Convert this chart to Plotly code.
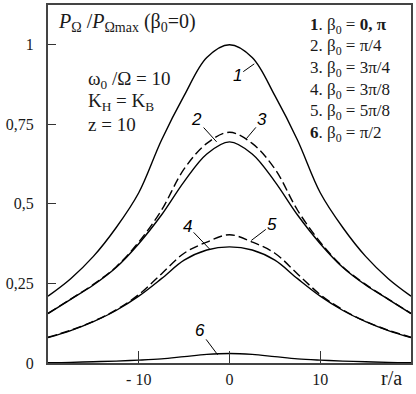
import plotly.graph_objects as go

# ---- data ----
r = [-20, -17.5, -15, -12.5, -10, -7.5, -5, -2.5, 0, 2.5, 5, 7.5, 10, 12.5, 15, 17.5, 20]
p1 = [0.21, 0.265, 0.335, 0.425, 0.535, 0.70, 0.84, 0.96, 1.0, 0.96, 0.84, 0.70, 0.535, 0.425, 0.335, 0.265, 0.21]
p2 = [0.155, 0.20, 0.245, 0.30, 0.375, 0.465, 0.57, 0.657, 0.695, 0.657, 0.57, 0.465, 0.375, 0.30, 0.245, 0.20, 0.155]
p3 = [0.156, 0.201, 0.247, 0.302, 0.38, 0.48, 0.61, 0.69, 0.725, 0.69, 0.61, 0.48, 0.38, 0.302, 0.247, 0.201, 0.156]
p4 = [0.08, 0.102, 0.13, 0.165, 0.21, 0.265, 0.323, 0.355, 0.365, 0.355, 0.323, 0.265, 0.21, 0.165, 0.13, 0.102, 0.08]
p5 = [0.081, 0.103, 0.131, 0.167, 0.215, 0.28, 0.345, 0.38, 0.403, 0.38, 0.345, 0.28, 0.215, 0.167, 0.131, 0.103, 0.081]
p6 = [0.001, 0.002, 0.004, 0.006, 0.009, 0.013, 0.02, 0.027, 0.03, 0.027, 0.02, 0.013, 0.009, 0.006, 0.004, 0.002, 0.001]

ytick_vals = [0, 0.25, 0.5, 0.75, 1]
ytick_text = ["0", "0,25", "0,5", "0,75", "1"]
xtick_vals = [-10, 0, 10]
xtick_text = ["- 10", "0", "10"]

legend_lines = [
    "<b>1</b>. β<sub>0</sub> = <b>0, π</b>",
    "2. β<sub>0</sub> = π/4",
    "3. β<sub>0</sub> = 3π/4",
    "4. β<sub>0</sub> = 3π/8",
    "5. β<sub>0</sub> = 5π/8",
    "<b>6</b>. β<sub>0</sub> = π/2",
]

# curve labels: (label, x on curve, y on curve, text offset px)
curve_labels = [
    ("1", 2.73, 0.94, -17, 12),
    ("2", -1.42, 0.695, -20, -22),
    ("3", 1.86, 0.705, 16, -19),
    ("4", -2.19, 0.358, -22, -23),
    ("5", 2.4, 0.385, 21, -16),
    ("6", -1.31, 0.026, -18, -24),
]

SERIF = "Liberation Serif"
INK = "#1a1a1a"

fig = go.Figure()
series = [(p1, "solid"), (p2, "solid"), (p3, "9px,4px"), (p4, "solid"), (p5, "9px,4px"), (p6, "solid")]
for ys, dash in series:
    fig.add_trace(go.Scatter(x=r, y=ys, mode="lines",
                             line=dict(color="black", width=1.4, dash=dash, shape="spline", smoothing=1.0),
                             showlegend=False, hoverinfo="skip"))

fig.update_layout(
    width=416, height=394,
    margin=dict(l=48, r=3, t=3, b=31),
    paper_bgcolor="white", plot_bgcolor="white",
    font=dict(family=SERIF, color=INK, size=16),
    xaxis=dict(range=[-20, 20], tickvals=xtick_vals, ticktext=xtick_text,
               ticks="inside", ticklen=12, tickwidth=1.2, tickcolor="#333",
               showgrid=False, zeroline=False, showline=True, linecolor="#444", linewidth=2,
               mirror=True, tickfont=dict(size=16, family=SERIF), ticklabelstandoff=1),
    yaxis=dict(range=[0, 1.125], tickvals=ytick_vals, ticktext=ytick_text,
               ticks="inside", ticklen=8, tickwidth=1.2, tickcolor="#333",
               showgrid=False, zeroline=False, showline=True, linecolor="#444", linewidth=2,
               mirror=True, tickfont=dict(size=16, family=SERIF), ticklabelstandoff=9),
)

ann = []
ann.append(dict(text="<i>P</i><sub>Ω</sub> /<i>P</i><sub>Ωmax</sub> (β<sub>0</sub>=0)",
                xref="paper", yref="paper", x=0.022, y=0.95, xanchor="left", yanchor="middle",
                showarrow=False, font=dict(size=20, family=SERIF)))
params = ["ω<sub>0</sub> /Ω = 10", "K<sub>H</sub> = K<sub>B</sub>", "z = 10"]
for i, t in enumerate(params):
    ann.append(dict(text=t, xref="paper", yref="paper", x=0.105, y=0.79 - i * 0.062,
                    xanchor="left", yanchor="middle", showarrow=False, font=dict(size=19, family=SERIF)))
for i, t in enumerate(legend_lines):
    ann.append(dict(text=t, xref="paper", yref="paper", x=0.715, y=(363 - 24 - i * 21.7) / 360,
                    xanchor="left", yanchor="middle", showarrow=False, font=dict(size=17, family=SERIF)))
for lab, xc, yc, axp, ayp in curve_labels:
    ann.append(dict(text="<i>" + lab + "</i>", x=xc, y=yc, xref="x", yref="y", ax=axp, ay=ayp,
                    showarrow=True, arrowhead=0, arrowwidth=1, arrowcolor="black",
                    font=dict(size=17, family="Liberation Sans", color="black")))
ann.append(dict(text="r/a", xref="paper", yref="paper", x=0.945, y=-0.042, xanchor="center", yanchor="middle",
                showarrow=False, font=dict(size=20, family=SERIF)))
fig.update_layout(annotations=ann)

fig.write_html("out.html", config={"displayModeBar": False},
               post_script="document.body.style.margin='0';")
